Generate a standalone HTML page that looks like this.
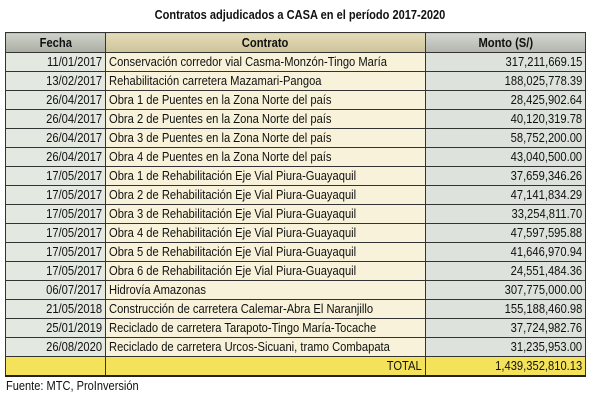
<!DOCTYPE html>
<html><head><meta charset="utf-8"><style>
body{margin:0;width:600px;height:400px;background:#fff;font-family:"Liberation Sans",sans-serif;position:relative;overflow:hidden}
.t{position:absolute;top:7px;left:0;width:600px;text-align:center;font-weight:bold;font-size:13px;color:#111}
.t span{display:inline-block;transform:scaleX(.85)}
table{position:absolute;left:5px;top:32px;border-collapse:collapse;table-layout:fixed;width:580px;font-size:13px;color:#111}
td{border:1px solid #333;height:18px;padding:0 3px;white-space:nowrap;overflow:hidden;line-height:18px}
td span{display:inline-block;transform:scaleX(.86)}
.a{text-align:right;background:#e3e8e0}.a span{transform-origin:right}
.b{text-align:left;background:#f7f2d9}.b span{transform-origin:left}
.c{text-align:right;background:#dde2dc}.c span{transform-origin:right}
tr.h td{font-weight:bold;text-align:center;height:19px}
tr.h .a{background:linear-gradient(#cfd2c8,#a9ada2)}
tr.h .b{background:linear-gradient(#e4dcb8,#cdc39a)}
tr.h .c{background:linear-gradient(#d4d7d0,#b0b4ac)}
tr.h span{transform-origin:center}
tr.tot td{background:#f4e35a;border-bottom:2px solid #222}
tr.tot .b{text-align:right}tr.tot .b span{transform-origin:right}
.f{position:absolute;left:6px;top:378px;font-size:13px;color:#111}
.f span{display:inline-block;transform:scaleX(.85);transform-origin:left}
</style></head><body>
<div class="t"><span>Contratos adjudicados a CASA en el período 2017-2020</span></div>
<table>
<colgroup><col style="width:100px"><col style="width:320px"><col style="width:160px"></colgroup>
<tr class="h"><td class="a"><span>Fecha</span></td><td class="b"><span>Contrato</span></td><td class="c"><span>Monto (S/)</span></td></tr>
<tr><td class="a"><span>11/01/2017</span></td><td class="b"><span>Conservación corredor vial Casma-Monzón-Tingo María</span></td><td class="c"><span>317,211,669.15</span></td></tr>
<tr><td class="a"><span>13/02/2017</span></td><td class="b"><span>Rehabilitación carretera Mazamari-Pangoa</span></td><td class="c"><span>188,025,778.39</span></td></tr>
<tr><td class="a"><span>26/04/2017</span></td><td class="b"><span>Obra 1 de Puentes en la Zona Norte del país</span></td><td class="c"><span>28,425,902.64</span></td></tr>
<tr><td class="a"><span>26/04/2017</span></td><td class="b"><span>Obra 2 de Puentes en la Zona Norte del país</span></td><td class="c"><span>40,120,319.78</span></td></tr>
<tr><td class="a"><span>26/04/2017</span></td><td class="b"><span>Obra 3 de Puentes en la Zona Norte del país</span></td><td class="c"><span>58,752,200.00</span></td></tr>
<tr><td class="a"><span>26/04/2017</span></td><td class="b"><span>Obra 4 de Puentes en la Zona Norte del país</span></td><td class="c"><span>43,040,500.00</span></td></tr>
<tr><td class="a"><span>17/05/2017</span></td><td class="b"><span>Obra 1 de Rehabilitación Eje Vial Piura-Guayaquil</span></td><td class="c"><span>37,659,346.26</span></td></tr>
<tr><td class="a"><span>17/05/2017</span></td><td class="b"><span>Obra 2 de Rehabilitación Eje Vial Piura-Guayaquil</span></td><td class="c"><span>47,141,834.29</span></td></tr>
<tr><td class="a"><span>17/05/2017</span></td><td class="b"><span>Obra 3 de Rehabilitación Eje Vial Piura-Guayaquil</span></td><td class="c"><span>33,254,811.70</span></td></tr>
<tr><td class="a"><span>17/05/2017</span></td><td class="b"><span>Obra 4 de Rehabilitación Eje Vial Piura-Guayaquil</span></td><td class="c"><span>47,597,595.88</span></td></tr>
<tr><td class="a"><span>17/05/2017</span></td><td class="b"><span>Obra 5 de Rehabilitación Eje Vial Piura-Guayaquil</span></td><td class="c"><span>41,646,970.94</span></td></tr>
<tr><td class="a"><span>17/05/2017</span></td><td class="b"><span>Obra 6 de Rehabilitación Eje Vial Piura-Guayaquil</span></td><td class="c"><span>24,551,484.36</span></td></tr>
<tr><td class="a"><span>06/07/2017</span></td><td class="b"><span>Hidrovía Amazonas</span></td><td class="c"><span>307,775,000.00</span></td></tr>
<tr><td class="a"><span>21/05/2018</span></td><td class="b"><span>Construcción de carretera Calemar-Abra El Naranjillo</span></td><td class="c"><span>155,188,460.98</span></td></tr>
<tr><td class="a"><span>25/01/2019</span></td><td class="b"><span>Reciclado de carretera Tarapoto-Tingo María-Tocache</span></td><td class="c"><span>37,724,982.76</span></td></tr>
<tr><td class="a"><span>26/08/2020</span></td><td class="b"><span>Reciclado de carretera Urcos-Sicuani, tramo Combapata</span></td><td class="c"><span>31,235,953.00</span></td></tr>
<tr class="tot"><td class="a"></td><td class="b"><span>TOTAL</span></td><td class="c"><span>1,439,352,810.13</span></td></tr>
</table>
<div class="f"><span>Fuente: MTC, ProInversión</span></div>
</body></html>
